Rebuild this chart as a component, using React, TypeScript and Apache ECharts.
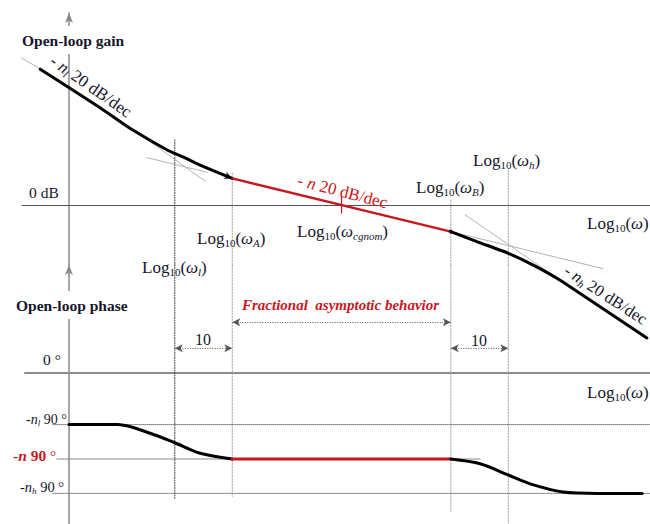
import React, { useEffect, useRef } from 'react';
import * as echarts from 'echarts';

const SERIF = '"Liberation Serif", "Times New Roman", serif';
const INK = '#16162c';
const RED = '#c8161d';
const GUIDE_DARK = '#3a3a3a';
const GUIDE_LIGHT = '#a8a8a8';
const ASYMPTOTE = '#b4b4b4';

// Corner frequencies, log10(ω) in decades (ω_A = 10·ω_l, ω_h = 10·ω_B)
const LOG_W_L = 1.84;
const LOG_W_A = 2.84;
const LOG_W_CG = 4.74;
const LOG_W_B = 6.64;
const LOG_W_H = 7.64;

// Open-loop gain (dB) against log10(ω)
const gainLowX = [-0.5, 0.54, 1.11, 1.7, 2.0, 2.28, 2.84];
const gainLowDb = [194, 139, 107, 79, 68, 57, 38];
const gainMidX = [LOG_W_A, LOG_W_B];
const gainMidDb = [38, -38];
const gainHighX = [6.64, 7.15, 7.64, 8.1, 8.57, 10.05];
const gainHighDb = [-38, -54, -69, -87, -109, -190];
const gainTickDb = [11, -11];

// Straight-line asymptotes (thin grey)
const asymLowEdgeX = [-0.85, -0.47];
const asymLowEdgeDb = [211, 193];
const asymLowSteepX = [1.18, 2.37];
const asymLowSteepDb = [104, 34];
const asymLowFlatX = [1.36, 2.4];
const asymLowFlatDb = [67.6, 46.8];
const asymHighFlatX = [6.64, 9.29];
const asymHighFlatDb = [-38, -91];
const asymHighSteepX = [6.89, 8.57];
const asymHighSteepDb = [-14, -109];

// Open-loop phase (degrees) against log10(ω)
const phaseLowX = [0, 0.85, 1.41, 1.84, 2.28, 2.84];
const phaseLowDeg = [-54, -54, -63, -73, -84, -90];
const phaseMidX = [LOG_W_A, LOG_W_B];
const phaseMidDeg = [-90, -90];
const phaseHighX = [6.64, 7.15, 7.65, 8.02, 8.59, 9.2, 9.97];
const phaseHighDeg = [-90, -95, -107, -116, -124.5, -126, -126];

// Phase levels -n_l·90°, -n·90°, -n_h·90°
const phaseLevelDeg = [-54, -90, -126];
const phaseLevelFromX = [-0.28, -0.21, -0.28];
const phaseLevelToX = [10.1, 7.15, 10.1];

// Vertical guides at the corner frequencies
const guideX = [LOG_W_L, LOG_W_A, LOG_W_B, LOG_W_H];
const guideTopDb = [93, 45, 7, 50];
const guideBottomDeg = [-131, -129, -145, -158];
const guideDark = [true, false, false, false];

// Dimension arrows (one decade each side, fractional band in the middle)
const spanFromX = [LOG_W_L, LOG_W_B, LOG_W_A];
const spanToX = [LOG_W_A, LOG_W_H, LOG_W_B];
const spanDeg = [26, 26, 53];

// Layout of the two panels
const W = 650;
const H = 524;
const AXIS_PX = 69;
const PX_PER_DECADE = 57.5;
const ZERO_DB_PX = 205;
const PX_PER_DB = 0.7;
const ZERO_DEG_PX = 373;
const PX_PER_DEG = 86 / 90;
const SPLIT_PX = 265;
const GAIN_TOP_PX = 13;
const GAIN_LEFT = 22;
const PHASE_LEFT = 25;

const X_MAX = (W - AXIS_PX) / PX_PER_DECADE;
const GAIN_MAX = (ZERO_DB_PX - GAIN_TOP_PX) / PX_PER_DB;
const GAIN_MIN = -(SPLIT_PX - ZERO_DB_PX) / PX_PER_DB;
const PHASE_MAX = (ZERO_DEG_PX - SPLIT_PX) / PX_PER_DEG;
const PHASE_MIN = -(H - ZERO_DEG_PX) / PX_PER_DEG;

const zip = (xs: number[], ys: number[]) => xs.map((x, i) => [x, ys[i]]);

function line(grid: number, data: number[][], color: string, width: number, dash: any = 'solid', z = 3, smooth: number | boolean = false) {
  return {
    type: 'line',
    xAxisIndex: grid,
    yAxisIndex: grid,
    data,
    symbol: 'none',
    clip: false,
    silent: true,
    z,
    smooth,
    lineStyle: { color, width, type: dash, cap: 'round', join: 'round' },
    emphasis: { disabled: true },
  };
}

function richSet(color: string, size: number) {
  const sub = Math.round(size * 0.65);
  const base = { fill: color, fontFamily: SERIF };
  return {
    m: { ...base, fontSize: size, lineHeight: size + 3 },
    b: { ...base, fontSize: size, fontWeight: 'bold', lineHeight: size + 3 },
    i: { ...base, fontSize: size, fontStyle: 'italic', lineHeight: size + 3 },
    bi: { ...base, fontSize: size, fontStyle: 'italic', fontWeight: 'bold', lineHeight: size + 3 },
    s: { ...base, fontSize: sub, lineHeight: sub, verticalAlign: 'bottom' },
    si: { ...base, fontSize: sub, fontStyle: 'italic', lineHeight: sub, verticalAlign: 'bottom' },
  };
}

const logText = (sub?: string) => `{m|Log}{s|10}{m|(}{i|ω}${sub ? `{si|${sub}}` : ''}{m|)}`;

// Text anchored at its left-middle point (rotation turns about that point)
function label(x: number, y: number, text: string, opts: any = {}) {
  const { color = INK, size = 17, align = 'left', rotate = 0, style = {} } = opts;
  return {
    type: 'text',
    x,
    y,
    z: 100,
    rotation: (rotate * Math.PI) / 180,
    silent: true,
    style: {
      text,
      fill: color,
      fontFamily: SERIF,
      fontSize: size,
      align,
      verticalAlign: 'middle',
      rich: richSet(color, size),
      ...style,
    },
  };
}

function buildOption(): any {
  const series: any[] = [];

  // guides at the corner frequencies, through both panels
  guideX.forEach((x, i) => {
    const c = guideDark[i] ? GUIDE_DARK : GUIDE_LIGHT;
    const d = guideDark[i] ? [1, 1.5] : [1.5, 1.5];
    series.push(line(0, [[x, guideTopDb[i]], [x, GAIN_MIN]], c, 1, d, 1));
    series.push(line(1, [[x, PHASE_MAX], [x, guideBottomDeg[i]]], c, 1, d, 1));
  });

  // gain asymptotes
  [
    zip(asymLowEdgeX, asymLowEdgeDb),
    zip(asymLowSteepX, asymLowSteepDb),
    zip(asymLowFlatX, asymLowFlatDb),
    zip(asymHighFlatX, asymHighFlatDb),
    zip(asymHighSteepX, asymHighSteepDb),
  ].forEach((d) => series.push(line(0, d, ASYMPTOTE, 1, 'solid', 2)));

  // gain curve
  series.push(line(0, zip(gainLowX, gainLowDb), '#000', 3, 'solid', 4, 0.3));
  series.push(line(0, zip(gainMidX, gainMidDb), RED, 2.5, 'solid', 4));
  series.push(line(0, zip(gainHighX, gainHighDb), '#000', 3, 'solid', 4, 0.15));
  series.push(line(0, gainTickDb.map((g) => [LOG_W_CG, g]), RED, 1.2, 'solid', 4));
  series.push({
    type: 'scatter',
    xAxisIndex: 0,
    yAxisIndex: 0,
    silent: true,
    z: 5,
    data: [
      { value: [LOG_W_A, gainMidDb[0]], symbol: 'arrow', symbolSize: [6, 8], symbolRotate: -112 },
      { value: [LOG_W_B, gainMidDb[1]], symbol: 'circle', symbolSize: 4 },
    ],
    itemStyle: { color: '#000' },
  });

  // phase reference levels
  phaseLevelDeg.forEach((p, i) => {
    series.push(line(1, [[phaseLevelFromX[i], p], [phaseLevelToX[i], p]], '#777', 1, [1, 1], 1));
  });

  // phase curve and dimension arrows
  series.push(line(1, zip(phaseLowX, phaseLowDeg), '#000', 3, 'solid', 4, 0.3));
  series.push({
    ...line(1, zip(phaseMidX, phaseMidDeg), RED, 3, 'solid', 4),
    markLine: {
      silent: true,
      symbol: ['arrow', 'arrow'],
      symbolSize: [6, 8],
      label: { show: false },
      lineStyle: { type: [1, 1.5], color: '#555', width: 1 },
      emphasis: { disabled: true },
      data: spanFromX.map((x, i) => [
        { coord: [x, spanDeg[i]] },
        { coord: [spanToX[i], spanDeg[i]] },
      ]),
    },
  });
  series.push(line(1, zip(phaseHighX, phaseHighDeg), '#000', 3, 'solid', 4, 0.3));

  const hidden = { axisTick: { show: false }, axisLabel: { show: false }, splitLine: { show: false } };
  const boxed = { fontWeight: 'bold', backgroundColor: '#fff', padding: [6, 3] };

  const graphics = [
    label(19, 40, 'Open-loop gain', { size: 15.5, style: boxed }),
    label(29, 192, '0 dB', { size: 15.5 }),
    label(52, 59, '{m|- }{i|n}{si|l}{m| 20 dB/dec}', { rotate: -35 }),
    label(298, 180, '{m|- }{i|n}{m| 20 dB/dec}', { color: RED, rotate: -14.5 }),
    label(566, 269, '{m|- }{i|n}{si|h}{m| 20 dB/dec}', { size: 16.5, rotate: -33 }),
    label(297, 231, logText('cgnom')),
    label(197, 238, logText('A')),
    label(142, 267, logText('l')),
    label(416, 187, logText('B')),
    label(473, 160, logText('h')),
    label(587, 223, logText()),
    label(13, 305, 'Open-loop phase', { size: 15.5, style: boxed }),
    label(242, 305, 'Fractional  asymptotic behavior', { color: RED, size: 15, style: { fontWeight: 'bold', fontStyle: 'italic' } }),
    label(203, 339, '10', { size: 16, align: 'center' }),
    label(479, 340, '10', { size: 16, align: 'center' }),
    label(43, 359, '0 °', { size: 15.5 }),
    label(587, 392, logText()),
    label(26, 419, '{m|-}{i|n}{si|l}{m| 90 °}', { size: 14 }),
    label(13, 455, '{b|-}{bi|n}{b| 90}{m| °}', { color: RED, size: 15.5 }),
    label(20, 487, '{m|-}{i|n}{si|h}{m| 90 °}', { size: 14.5 }),
  ];

  return {
    animation: false,
    backgroundColor: '#fff',
    grid: [
      { left: GAIN_LEFT, right: 0, top: GAIN_TOP_PX, height: SPLIT_PX - GAIN_TOP_PX, outerBoundsMode: 'none' },
      { left: PHASE_LEFT, right: 0, top: SPLIT_PX, height: H - SPLIT_PX, outerBoundsMode: 'none' },
    ],
    xAxis: [
      {
        type: 'value', gridIndex: 0,
        min: (GAIN_LEFT - AXIS_PX) / PX_PER_DECADE, max: X_MAX,
        axisLine: { show: true, onZero: true, lineStyle: { color: '#555', width: 1.2 } },
        ...hidden,
      },
      {
        type: 'value', gridIndex: 1,
        min: (PHASE_LEFT - AXIS_PX) / PX_PER_DECADE, max: X_MAX,
        axisLine: { show: true, onZero: true, lineStyle: { color: '#8c8c8c', width: 2 } },
        ...hidden,
      },
    ],
    yAxis: [
      {
        type: 'value', gridIndex: 0, min: GAIN_MIN, max: GAIN_MAX,
        axisLine: { show: true, onZero: true, symbol: ['none', 'arrow'], symbolSize: [6, 10], lineStyle: { color: '#8a8a8a', width: 1.5 } },
        ...hidden,
      },
      {
        type: 'value', gridIndex: 1, min: PHASE_MIN, max: PHASE_MAX,
        axisLine: { show: true, onZero: true, symbol: ['none', 'arrow'], symbolSize: [6, 10], lineStyle: { color: '#8a8a8a', width: 1.5 } },
        ...hidden,
      },
    ],
    series,
    graphic: { elements: graphics },
  };
}

export default function App() {
  const ref = useRef<HTMLDivElement>(null);
  useEffect(() => {
    if (!ref.current) return;
    const chart = echarts.init(ref.current, undefined, { renderer: 'svg' });
    chart.setOption(buildOption());
    return () => chart.dispose();
  }, []);
  return (
    <div
      ref={ref}
      style={{ position: 'absolute', left: 0, top: 0, width: W, height: H, background: '#fff' }}
    />
  );
}
